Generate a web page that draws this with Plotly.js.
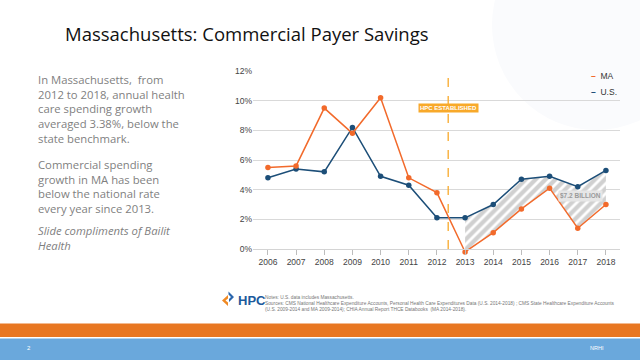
<!DOCTYPE html>
<html>
<head>
<meta charset="utf-8">
<script src="https://cdn.plot.ly/plotly-3.0.1.min.js"></script>
<style>html,body{margin:0;padding:0;background:#fff;}#chart{width:640px;height:360px;}</style>
</head>
<body>
<div id="chart"></div>
<script>
// ---- data ----
const years = [2006, 2007, 2008, 2009, 2010, 2011, 2012, 2013, 2014, 2015, 2016, 2017, 2018];
const maGrowth = [5.5, 5.6, 9.5, 7.8, 10.2, 4.8, 3.8, -0.2, 1.1, 2.7, 4.1, 1.4, 3.0];
const usGrowth = [4.8, 5.4, 5.2, 8.2, 4.9, 4.3, 2.1, 2.1, 3.0, 4.7, 4.9, 4.2, 5.3];
const savingsStartYear = 2013;
const hpcYear = 2012.4;
const hpcLabelY = 9.5;
const savingsLabel = "$7.2 BILLION";
const savingsLabelX = 2017.1;
const savingsLabelY = 3.6;
const yTicks = [0, 2, 4, 6, 8, 10, 12];

const titleText = "Massachusetts: Commercial Payer Savings";
const para1 = ["In Massachusetts,  from", "2012 to 2018, annual health", "care spending growth", "averaged 3.38%, below the", "state benchmark."];
const para2 = ["Commercial spending", "growth in MA has been", "below the national rate", "every year since 2013."];
const para3 = ["Slide compliments of Bailit", "Health"];
const notes = ["Notes: U.S. data includes Massachusetts.",
  "Sources: CMS National Healthcare Expenditure Accounts, Personal Health Care Expenditures Data (U.S. 2014-2018) ; CMS State Healthcare Expenditure Accounts",
  "(U.S. 2009-2014 and MA 2009-2014); CHIA Annual Report THCE Databooks  (MA 2014-2018)."];

// ---- layout helpers (pixel -> paper) ----
const L = 253, R = 620, T = 71, B = 256, W = 640, H = 360;
const px = x => (x - L) / (R - L);
const py = y => (B - y) / (B - T);
const yMin = -0.472, yMax = 12.001;

const MA_C = '#f26a2b', US_C = '#1c4e78';

const idx = years.indexOf(savingsStartYear);
const sYears = years.slice(idx);

const traces = [
  {x: sYears, y: maGrowth.slice(idx), mode: 'lines', line: {width: 0, color: 'rgba(0,0,0,0)'}, showlegend: false, hoverinfo: 'skip'},
  {x: sYears, y: usGrowth.slice(idx), mode: 'lines', line: {width: 0, color: 'rgba(0,0,0,0)'}, fill: 'tonexty',
   fillcolor: '#d2d2d2',
   fillpattern: {shape: '/', bgcolor: '#d0d0d0', fgcolor: '#ffffff', size: 7, solidity: 0.4},
   showlegend: false, hoverinfo: 'skip'},
  {x: years, y: usGrowth, name: 'U.S.', mode: 'lines+markers', line: {color: US_C, width: 1.5}, marker: {color: US_C, size: 5.5}, cliponaxis: false},
  {x: years, y: maGrowth, name: 'MA', mode: 'lines+markers', line: {color: MA_C, width: 1.5}, marker: {color: MA_C, size: 5.5}, cliponaxis: false}
];

const annotations = [];
annotations.push({xref: 'paper', yref: 'paper', x: px(63), y: py(33), xanchor: 'left', yanchor: 'middle', showarrow: false,
  text: titleText, font: {family: 'Open Sans', size: 18.5, color: '#111'}});
function addPara(lines, x0, yTop, italic) {
  const t = lines.map(s => italic ? '<i>' + s + '</i>' : s).join('<br>');
  annotations.push({xref: 'paper', yref: 'paper', x: px(x0), y: py(yTop), xanchor: 'left', yanchor: 'top', align: 'left',
    showarrow: false, text: t, font: {family: 'Open Sans', size: 11.3, color: '#7f7f7f'}});
}
addPara(para1, 36, 69.5);
addPara(para2, 36, 154.5);
addPara(para3, 36, 220.5, true);

// chart annotations
annotations.push({x: hpcYear, y: hpcLabelY, xref: 'x', yref: 'y', text: '<b>HPC ESTABLISHED</b>', showarrow: false,
  bgcolor: '#f8a92a', borderpad: 1, font: {family: 'Liberation Sans', size: 6, color: '#fff'}});
annotations.push({x: savingsLabelX, y: savingsLabelY, xref: 'x', yref: 'y', text: '<b>' + savingsLabel + '</b>', showarrow: false,
  bgcolor: '#e6e6e6', borderpad: 1, font: {family: 'Liberation Sans', size: 6.5, color: '#9a9a9a'}});
// legend
annotations.push({xref: 'paper', yref: 'paper', x: px(589), y: py(76), xanchor: 'left', yanchor: 'middle', showarrow: false,
  text: '<span style="color:' + MA_C + '"><b>–</b></span>  MA', font: {family: 'Liberation Sans', size: 8.5, color: '#333'}});
annotations.push({xref: 'paper', yref: 'paper', x: px(589), y: py(92), xanchor: 'left', yanchor: 'middle', showarrow: false,
  text: '<span style="color:' + US_C + '"><b>–</b></span>  U.S.', font: {family: 'Liberation Sans', size: 8.5, color: '#333'}});
// footer
annotations.push({xref: 'paper', yref: 'paper', x: px(236), y: py(300), xanchor: 'left', yanchor: 'middle', showarrow: false,
  text: '<b>HPC</b>', font: {family: 'Liberation Sans', size: 13, color: '#1c5a9c'}});
annotations.push({xref: 'paper', yref: 'paper', x: px(263), y: py(293), xanchor: 'left', yanchor: 'top', align: 'left',
  showarrow: false, text: notes.join('<br>'), font: {family: 'Liberation Sans', size: 4.8, color: '#777'}});
annotations.push({xref: 'paper', yref: 'paper', x: px(29), y: py(348), xanchor: 'center', yanchor: 'middle', showarrow: false,
  text: '2', font: {family: 'Liberation Sans', size: 6, color: '#fff'}});
annotations.push({xref: 'paper', yref: 'paper', x: px(597), y: py(348), xanchor: 'center', yanchor: 'middle', showarrow: false,
  text: 'NRHI', font: {family: 'Liberation Sans', size: 5.5, color: '#fff'}});

const shapes = [
  // faint decorative circles top-right
  {type: 'circle', xref: 'paper', yref: 'paper', x0: px(492), x1: px(700), y0: py(130), y1: py(-80), fillcolor: '#fafbfd', line: {width: 0}, layer: 'below'},
  // footer bands
  {type: 'rect', xref: 'paper', yref: 'paper', x0: px(0), x1: px(W), y0: py(323.5), y1: py(337), fillcolor: '#e87722', line: {width: 0}},
  {type: 'rect', xref: 'paper', yref: 'paper', x0: px(0), x1: px(W), y0: py(338.5), y1: py(H + 1), fillcolor: '#6aa8dc', line: {width: 0}},
  // HPC icon
  {type: 'path', xref: 'paper', yref: 'paper', path: `M ${px(228)} ${py(295)} L ${px(222)} ${py(300.5)} L ${px(228)} ${py(306)} L ${px(228)} ${py(302.5)} L ${px(225.5)} ${py(300.5)} L ${px(228)} ${py(298.5)} Z`, fillcolor: '#f08a24', line: {width: 0}},
  {type: 'path', xref: 'paper', yref: 'paper', path: `M ${px(228.5)} ${py(291.5)} L ${px(234)} ${py(297)} L ${px(229)} ${py(302)} L ${px(229)} ${py(299)} L ${px(231)} ${py(297)} L ${px(228.5)} ${py(294.5)} Z`, fillcolor: '#2a66ad', line: {width: 0}},
  // HPC established dashed line
  {type: 'line', xref: 'x', yref: 'y', x0: hpcYear, x1: hpcYear, y0: 0, y1: 12, line: {color: '#f8a92a', width: 1.3, dash: 'dash'}}
];

const layout = {
  width: W, height: H,
  margin: {l: L, r: W - R, t: T, b: H - B, pad: 0},
  paper_bgcolor: '#fff', plot_bgcolor: 'rgba(0,0,0,0)',
  showlegend: false,
  xaxis: {range: [2005.47, 2018.5], anchor: 'free', position: (0 - yMin) / (yMax - yMin), tickvals: years,
    showgrid: false, zeroline: false, showline: true, linecolor: '#d4d4d4', linewidth: 1,
    ticks: 'outside', ticklen: 5, tickcolor: '#bdbdbd', tickfont: {family: 'Liberation Sans', size: 8.5, color: '#444'}},
  yaxis: {range: [yMin, yMax], tickvals: yTicks, ticktext: yTicks.map(v => v + '%'), showgrid: true, gridcolor: '#d9d9d9', gridwidth: 1,
    zeroline: false, showline: false, ticks: '', tickfont: {family: 'Liberation Sans', size: 8.5, color: '#444'}},
  annotations: annotations,
  shapes: shapes
};

Plotly.newPlot('chart', traces, layout, {staticPlot: true, displayModeBar: false});
</script>
</body>
</html>
